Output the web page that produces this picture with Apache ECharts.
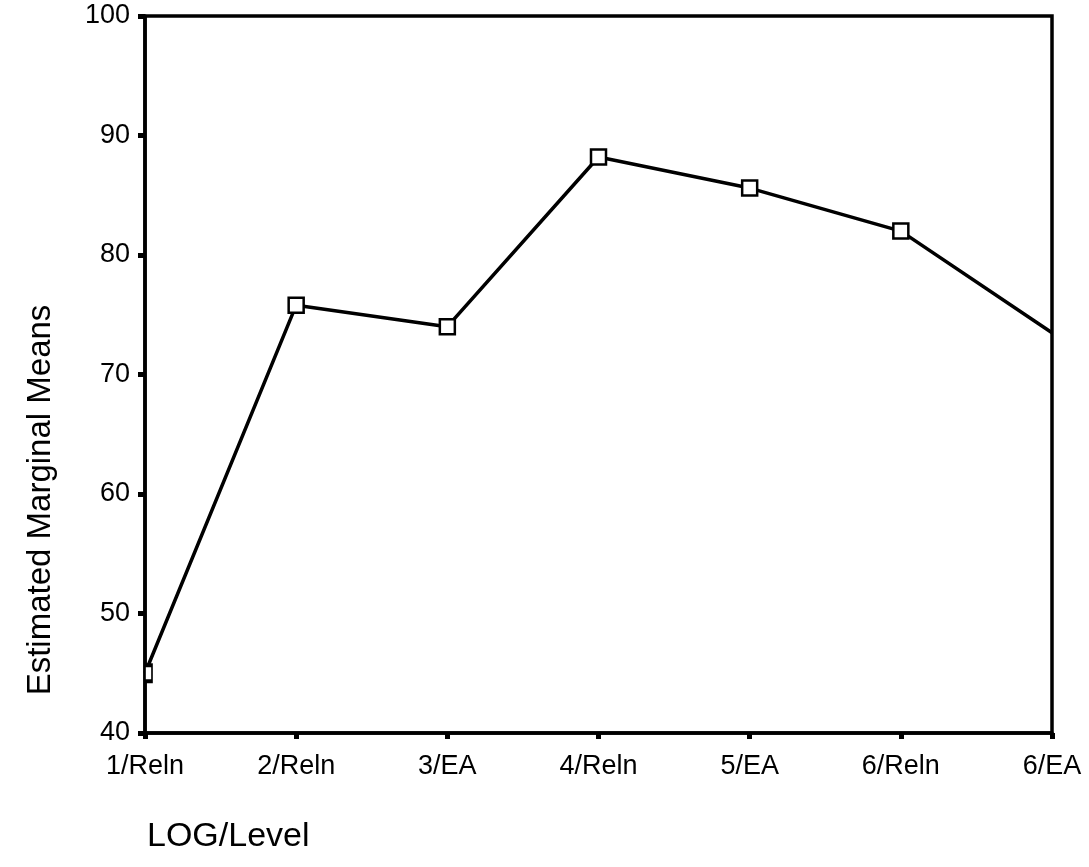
<!DOCTYPE html>
<html>
<head>
<meta charset="utf-8">
<script src="https://cdn.jsdelivr.net/npm/echarts@6/dist/echarts.min.js"></script>
<style>
  html, body { margin: 0; padding: 0; background: #fff; }
  #chart { width: 1089px; height: 867px; }
</style>
</head>
<body>
<div id="chart"></div>
<script>
// data
const categories = ["1/Reln", "2/Reln", "3/EA", "4/Reln", "5/EA", "6/Reln", "6/EA"];
const means = [45.0, 75.8, 74.0, 88.2, 85.6, 82.0, 73.5];
const yMin = 40;
const yMax = 100;
const yStep = 10;

const font = "'Liberation Sans', Arial, Helvetica, sans-serif";
const chart = echarts.init(document.getElementById("chart"));

// first marker sits on the axis and is cut in half, last one is not drawn
const seriesData = means.map((v, i) => {
  if (i === 0) {
    return { value: v, symbolSize: [7, 16], symbolOffset: [3.5, 0] };
  }
  if (i === means.length - 1) {
    return { value: v, symbol: "none" };
  }
  return v;
});

chart.setOption({
  animation: false,
  backgroundColor: "#fff",
  grid: {
    left: 145,
    right: 37,
    top: 16,
    bottom: 134,
    show: true,
    borderColor: "#000",
    borderWidth: 3.5,
  },
  xAxis: {
    type: "category",
    data: categories,
    boundaryGap: false,
    axisLine: { lineStyle: { color: "#000", width: 3.5 } },
    axisTick: {
      show: true,
      alignWithLabel: true,
      length: 6,
      lineStyle: { color: "#000", width: 5 },
    },
    axisLabel: {
      color: "#000",
      fontFamily: font,
      fontSize: 27,
      margin: 20,
    },
    splitLine: { show: false },
  },
  yAxis: {
    type: "value",
    min: yMin,
    max: yMax,
    interval: yStep,
    axisLine: { show: true, lineStyle: { color: "#000", width: 3.5 } },
    axisTick: {
      show: true,
      length: 7,
      lineStyle: { color: "#000", width: 5 },
    },
    axisLabel: {
      color: "#000",
      fontFamily: font,
      fontSize: 27,
      margin: 15,
    },
    splitLine: { show: false },
  },
  graphic: [
    {
      type: "text",
      x: 41,
      y: 500,
      rotation: Math.PI / 2,
      style: {
        text: "Estimated Marginal Means",
        fill: "#000",
        font: "33px " + font,
        align: "center",
        verticalAlign: "middle",
      },
    },
    {
      type: "text",
      left: 147,
      top: 820,
      style: {
        text: "LOG/Level",
        fill: "#000",
        font: "34px " + font,
      },
    },
  ],
  series: [
    {
      type: "line",
      data: seriesData,
      symbol: "rect",
      symbolSize: 15,
      showAllSymbol: true,
      lineStyle: { color: "#000", width: 3.5 },
      itemStyle: { color: "#fff", borderColor: "#000", borderWidth: 2.5 },
      z: 5,
    },
  ],
});
</script>
</body>
</html>
